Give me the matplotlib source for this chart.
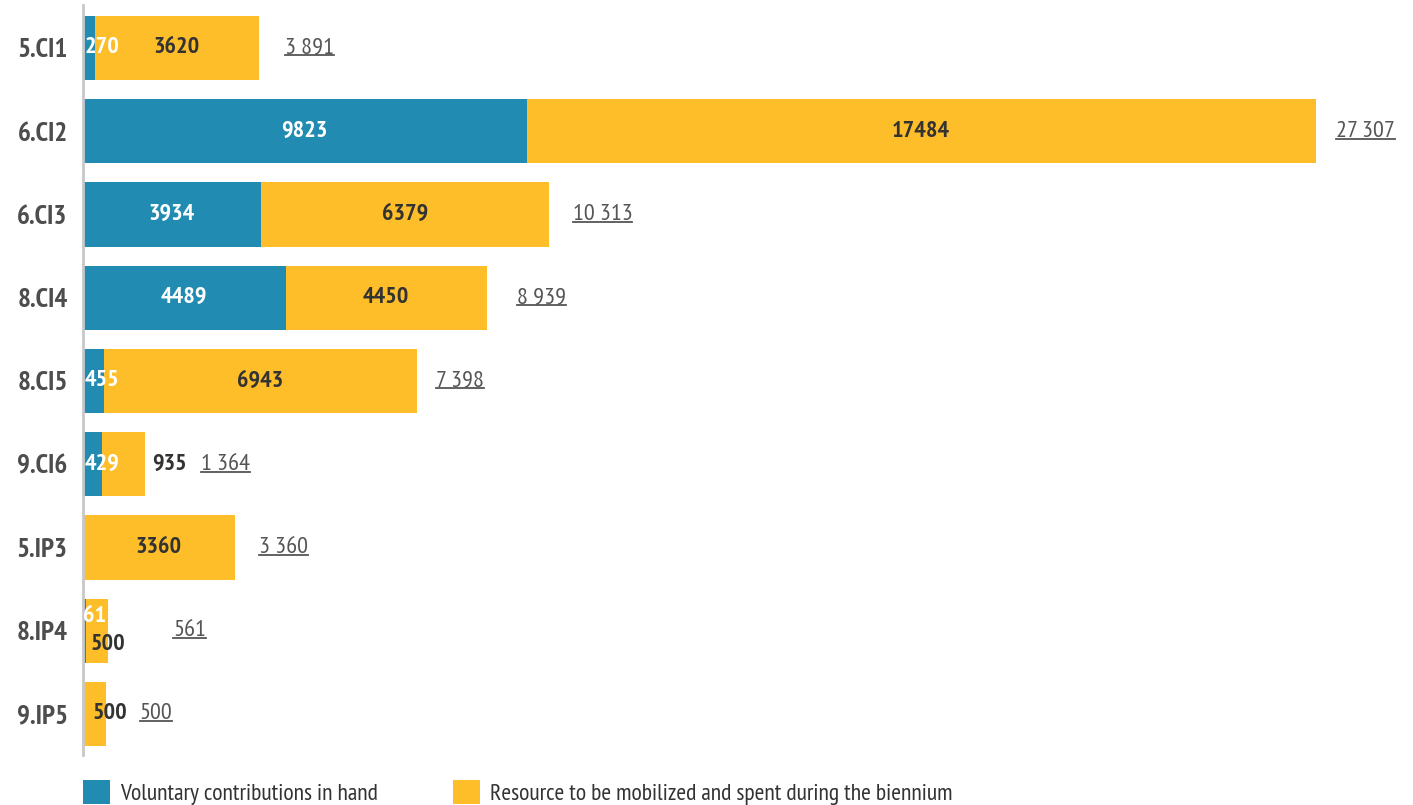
import matplotlib
matplotlib.use("Agg")
import matplotlib.pyplot as plt
from matplotlib.patches import Patch
from matplotlib.lines import Line2D
from matplotlib import font_manager

categories = ["5.CI1", "6.CI2", "6.CI3", "8.CI4", "8.CI5", "9.CI6", "5.IP3", "8.IP4", "9.IP5"]
voluntary = [270, 9823, 3934, 4489, 455, 429, 0, 61, 0]
resource = [3620, 17484, 6379, 4450, 6943, 935, 3360, 500, 500]
totals = [3891, 27307, 10313, 8939, 7398, 1364, 3360, 561, 500]
total_labels = ["3 891", "27 307", "10 313", "8 939", "7 398", "1 364", "3 360", "561", "500"]
legend_labels = ["Voluntary contributions in hand",
                 "Resource to be mobilized and spent during the biennium"]

BLUE = "#228BB2"
YELLOW = "#FDBE2A"
DARK = "#333333"
GRAY = "#555555"

avail = {f.name for f in font_manager.fontManager.ttflist}
fams = [f for f in ["PT Sans Narrow", "IBM Plex Sans Condensed", "Liberation Sans Narrow"] if f in avail]
plt.rcParams["font.family"] = fams + ["DejaVu Sans"]

W, H = 1413, 805
fig = plt.figure(figsize=(W / 100, H / 100), dpi=100)
ax = fig.add_axes([83 / W, 1 - 755 / H, (W - 83) / W, 750 / H])

y = list(range(len(categories)))
ax.barh(y, voluntary, height=0.77, color=BLUE, linewidth=0)
ax.barh(y, resource, left=voluntary, height=0.77, color=YELLOW, linewidth=0)

ax.set_xlim(0, 29455)
ax.set_ylim(8.4925, -0.5165)
ax.set_yticks(y)
ax.set_yticklabels(categories, fontsize=19.5, fontweight="bold", color="#4D4D4D")
ax.tick_params(axis="y", length=0, pad=11)
ax.set_xticks([])
for s in ["top", "right", "bottom"]:
    ax.spines[s].set_visible(False)
ax.spines["left"].set_color("#C8C8C8")
ax.spines["left"].set_linewidth(2)

VFS = 17.5
# label modes per row: (blue mode, yellow mode)
blue_mode = ["left", "center", "center", "center", "left", "left", None, "left_up", None]
yellow_mode = ["center", "center", "center", "center", "center", "outside", "center", "left_down", "left_pad"]
total_gap = [26, 20, 24, 30, 19, 56, 24, 65, 34]

for i in range(len(categories)):
    v, r, t = voluntary[i], resource[i], totals[i]
    bm = blue_mode[i]
    if bm == "center":
        ax.text(v / 2, i, str(v), ha="center", va="center", color="white",
                fontsize=VFS, fontweight="bold")
    elif bm == "left":
        ax.annotate(str(v), (0, i), xytext=(2, 0), textcoords="offset pixels",
                    ha="left", va="center", color="white", fontsize=VFS, fontweight="bold")
    elif bm == "left_up":
        ax.annotate(str(v), (0, i), xytext=(0, 14), textcoords="offset pixels",
                    ha="left", va="center", color="white", fontsize=VFS, fontweight="bold")
    ym = yellow_mode[i]
    if ym == "center":
        ax.text(v + r / 2, i, str(r), ha="center", va="center", color=DARK,
                fontsize=VFS, fontweight="bold")
    elif ym == "outside":
        ax.annotate(str(r), (t, i), xytext=(8, 0), textcoords="offset pixels",
                    ha="left", va="center", color=DARK, fontsize=VFS, fontweight="bold")
    elif ym == "left_down":
        ax.annotate(str(r), (0, i), xytext=(8, -14), textcoords="offset pixels",
                    ha="left", va="center", color=DARK, fontsize=VFS, fontweight="bold")
    elif ym == "left_pad":
        ax.annotate(str(r), (0, i), xytext=(10, 0), textcoords="offset pixels",
                    ha="left", va="center", color=DARK, fontsize=VFS, fontweight="bold")

tot_texts = []
for i in range(len(categories)):
    tt = ax.annotate(total_labels[i], (totals[i], i), xytext=(total_gap[i], 0),
                     textcoords="offset pixels", ha="left", va="center",
                     color=GRAY, fontsize=17.5)
    tot_texts.append(tt)

handles = [Patch(facecolor=BLUE, edgecolor="none"), Patch(facecolor=YELLOW, edgecolor="none")]
leg = fig.legend(handles, legend_labels, loc="lower left", bbox_to_anchor=(83 / W, 0),
                 ncol=2, frameon=False, fontsize=17, handlelength=1.15, handleheight=1.15,
                 handletextpad=0.4, columnspacing=3.2, borderaxespad=0, borderpad=0,
                 labelcolor=DARK)

fig.canvas.draw()
inv = fig.transFigure.inverted()
for tt in tot_texts:
    bb = tt.get_window_extent()
    yline = bb.y0 + 3
    (x0, y0) = inv.transform((bb.x0, yline))
    (x1, _) = inv.transform((bb.x1, yline))
    fig.add_artist(Line2D([x0, x1], [y0, y0], transform=fig.transFigure,
                          color=GRAY, linewidth=1.3))

fig.savefig("out.png", dpi=100)
